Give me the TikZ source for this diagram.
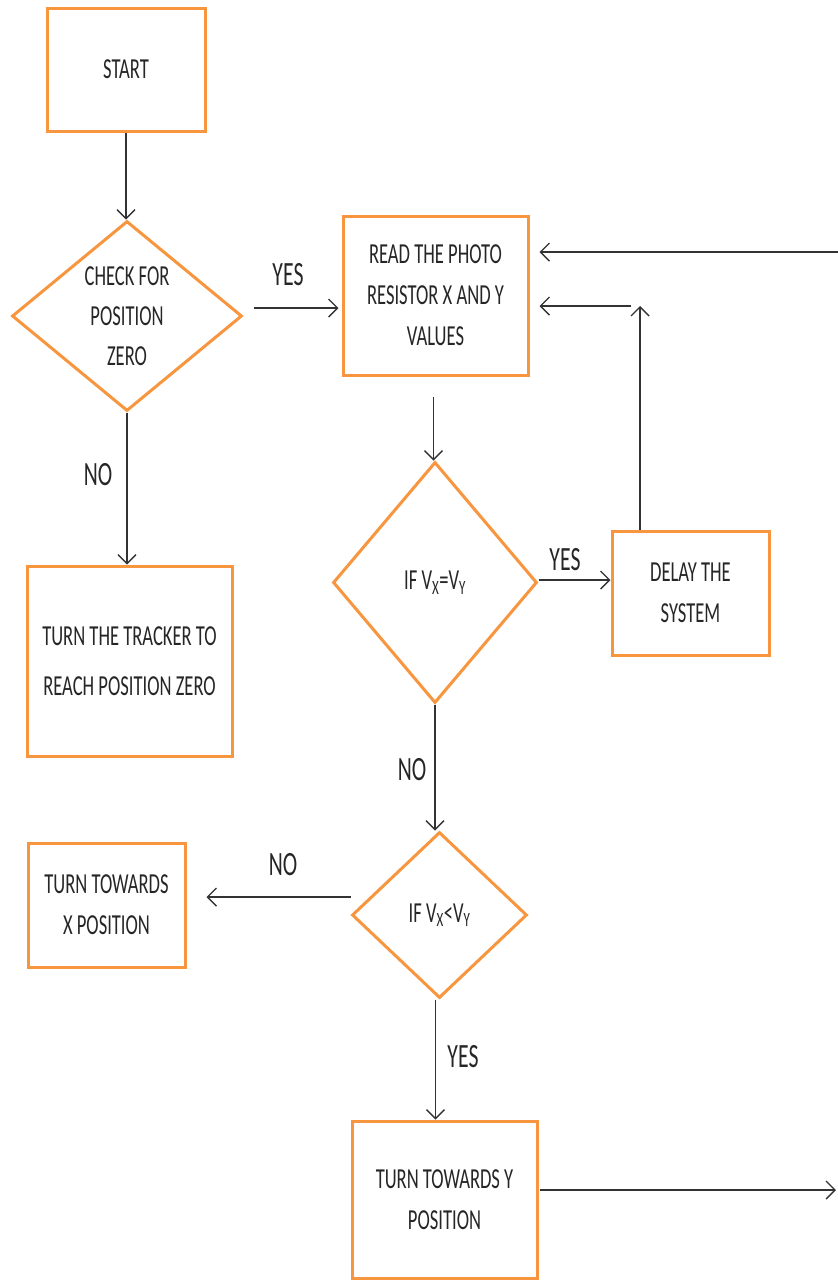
\documentclass[tikz,border=0pt]{standalone}
\usepackage{fontspec}
\setmainfont{Carlito}[FakeStretch=0.64]
\usetikzlibrary{arrows.meta,shapes.geometric}
\definecolor{boxorange}{HTML}{F7963F}
\definecolor{linegray}{HTML}{333333}
\tikzset{
  box/.style={draw=boxorange, line width=3pt, fill=white, align=center,
    inner sep=0pt, font=\fontsize{29}{41}\selectfont, text=black!85},
  dec/.style={draw=boxorange, line width=3pt, shape=diamond, align=center,
    inner sep=0pt, font=\fontsize{29}{40}\selectfont, text=black!85},
  arr/.style={draw=linegray, line width=1.4pt,
    -{Straight Barb[length=9pt,width=18pt,line width=1.4pt]}},
  lbl/.style={font=\fontsize{34}{40}\selectfont, text=black!85, inner sep=0pt},
}
\begin{document}
\begin{tikzpicture}[x=1pt,y=-1pt]
\useasboundingbox (0,0) rectangle (838,1283);
% nodes
\node[box, minimum width=158pt, minimum height=123pt] (start) at (126,69.5) {START};
\node[dec, minimum width=230pt, minimum height=190pt, aspect=1.21] (d1) at (127,316) {CHECK FOR\\POSITION\\ZERO};
\coordinate (d1c) at (127,313);
\node[box, minimum width=185pt, minimum height=159pt] (read) at (435.5,295.5) {READ THE PHOTO\\RESISTOR X AND Y\\VALUES};
\node[box, minimum width=205pt, minimum height=190pt, font=\fontsize{29}{50}\selectfont] (turn) at (129.5,661) {TURN THE TRACKER TO\\REACH POSITION ZERO};
\node[dec, minimum width=204pt, minimum height=241pt, aspect=0.85] (d2) at (435,582.5) {IF V\textsubscript{X}=V\textsubscript{Y}};
\node[box, minimum width=157pt, minimum height=124pt] (delay) at (690.5,593) {DELAY THE\\SYSTEM};
\node[dec, minimum width=175pt, minimum height=166pt, aspect=1.05] (d3) at (439.5,915) {IF V\textsubscript{X}<V\textsubscript{Y}};
\node[box, minimum width=157pt, minimum height=124pt] (xbox) at (106.5,905) {TURN TOWARDS\\X POSITION};
\node[box, minimum width=185pt, minimum height=157pt] (ybox) at (444.5,1199.5) {TURN TOWARDS Y\\POSITION};
\coordinate (inR) at (840,252);
\coordinate (outR) at (836,1190);
\coordinate (fbtop) at (640,306);
% connectors
\draw[arr] (start.south) -- (start.south |- d1.north);
\draw[arr, shorten <=10pt, shorten >=3pt] ([yshift=8pt]d1.east) -- ([yshift=8pt]d1.east -| read.west);
\draw[arr, shorten >=10pt] (inR) -- (inR -| read.east);
\draw[arr] ([xshift=-50.5pt]delay.north) -- (fbtop);
\draw[arr, shorten >=10pt] ([xshift=-9pt]fbtop) -- (fbtop -| read.east);
\draw[arr, shorten <=20pt] ([xshift=-2pt]read.south) -- ([xshift=-2pt]read.south |- d2.north);
\draw[arr] ([yshift=2.5pt]d2.east) -- ([yshift=2.5pt]d2.east -| delay.west);
\draw[arr] (d2.south) -- (d2.south |- d3.north);
\draw[arr, shorten >=20pt] ([yshift=18pt]d3.west) -- ([yshift=18pt]d3.west -| xbox.east);
\draw[arr] ([xshift=-4pt]d3.south) -- ([xshift=-4pt]d3.south |- ybox.north);
\draw[arr, shorten <=1pt] ([yshift=9.5pt]ybox.east) -- (outR);
\draw[arr] (d1.south) -- (d1.south |- turn.north);
% labels
\node[lbl] (l1) at (288,275) {YES};
\node[lbl] (l2) at (565,560) {YES};
\node[lbl] (l3) at (98,475) {NO};
\node[lbl] (l4) at (412,770) {NO};
\node[lbl] (l5) at (283,865) {NO};
\node[lbl] (l6) at (463,1057) {YES};
\end{tikzpicture}
\end{document}
